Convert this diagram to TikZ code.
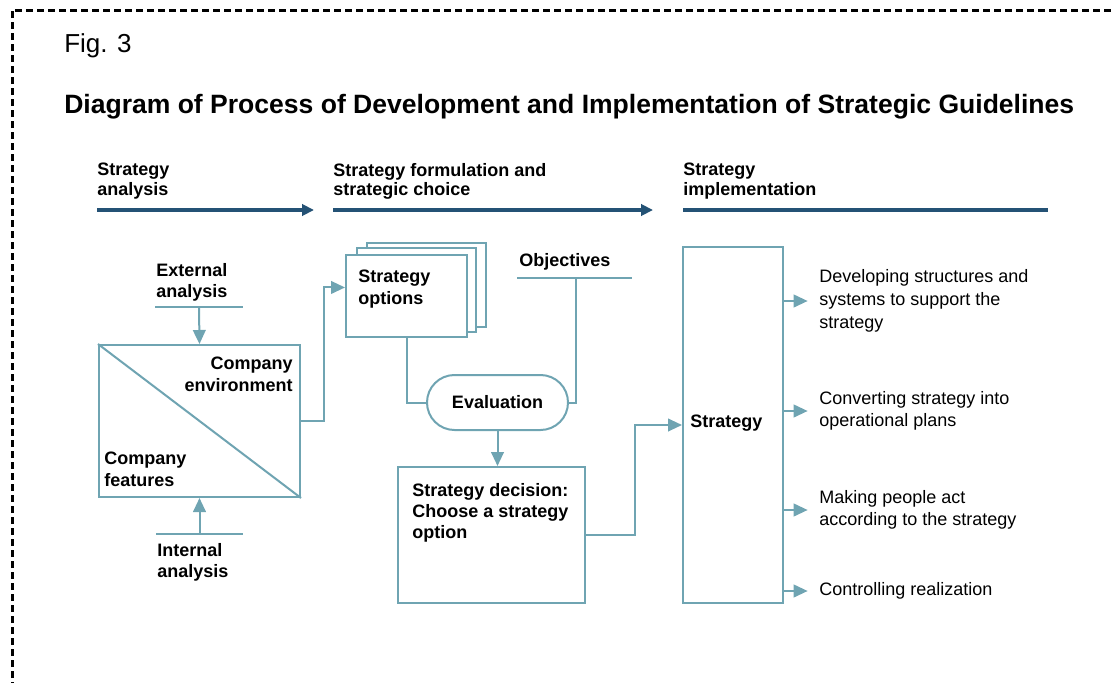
\documentclass[tikz,border=0pt]{standalone}
\usepackage{fontspec}
\setmainfont{Liberation Sans}
\usetikzlibrary{arrows.meta,calc}

\definecolor{flowline}{RGB}{111,164,178}
\definecolor{phaseline}{RGB}{36,82,117}

\tikzset{
	box/.style={draw=flowline, line width=1.5pt, fill=white, inner sep=0},
	con/.style={draw=flowline, line width=1.5pt},
	arr/.style={-{Triangle[length=10.5pt,width=9.5pt]}},
	phase/.style={draw=phaseline, line width=2.4pt},
	head/.style={font=\bfseries\fontsize{13.5}{14.5}\selectfont, align=left, inner sep=0},
	lbl/.style={font=\bfseries\fontsize{13.5}{16}\selectfont, inner sep=0},
	txt/.style={font=\fontsize{13.5}{17}\selectfont, align=left, inner sep=0}
}

\begin{document}
\begin{tikzpicture}[x=0.75pt,y=-0.75pt]
	\useasboundingbox (0,0) rectangle (1114,682);
	\draw [line width=2.25pt, dash pattern=on 5.25pt off 3pt] (12,700) -- (12,10) -- (1130,10);

	\node [anchor=base west, inner sep=0, font=\fontsize{19.5}{22}\selectfont] (fig) at (64,52) {Fig. 3};
	\node [anchor=base west, inner sep=0, font=\bfseries\fontsize{19.9}{22}\selectfont] (title) at (64,113)
	   {Diagram of Process of Development and Implementation of Strategic Guidelines};

	% phases
	\node [head, anchor=north west] (ph1) at (97,163) {Strategy\\analysis};
	\node [head, anchor=north west] (ph2) at (333,163) {Strategy formulation and\\strategic choice};
	\node [head, anchor=north west] (ph3) at (683,163) {Strategy\\implementation};
	\coordinate (ph1a) at (97,210);  \coordinate (ph1b) at (314,210);
	\coordinate (ph2a) at (333,210); \coordinate (ph2b) at (653,210);
	\coordinate (ph3a) at (683,210); \coordinate (ph3b) at (1048,210);
	\draw [phase] [-{Triangle[length=9pt,width=8.5pt]}] (ph1a) -- (ph1b);
	\draw [phase] [-{Triangle[length=9pt,width=8.5pt]}] (ph2a) -- (ph2b);
	\draw [phase] (ph3a) -- (ph3b);

	% analysis
	\node [box, minimum width=150.75pt, minimum height=114pt] (env) at (199.5,421) {};
	\draw [con] (env.north west) -- (env.south east);
	\node [lbl, align=right, anchor=north east] (envtxt) at (293,357) {Company\\environment};
	\node [lbl, align=left, anchor=north west] (feat) at (104,452) {Company\\features};

	\node [lbl, align=left, anchor=north west] (ext) at (156,263) {External\\analysis};
	\coordinate (extl) at (155,307); \coordinate (extr) at (243,307);
	\draw [con] (extl) -- (extr);
	\draw [con, arr] ($(extl)!0.5!(extr)$) -- (env.north);

	\node [lbl, align=left, anchor=north west] (int) at (157,543) {Internal\\analysis};
	\coordinate (intl) at (156,534); \coordinate (intr) at (243,534);
	\draw [con] (intl) -- (intr);
	\draw [con, arr] ($(intl)!0.5!(intr)$) -- (env.south);

	% formulation and choice
	\node [box, minimum width=89.25pt, minimum height=63pt] (opt3) at (426.5,285) {};
	\node [box, minimum width=89.25pt, minimum height=63pt] (opt2) at (416.5,290) {};
	\node [box, minimum width=90.75pt, minimum height=61.5pt] (opt) at (406.5,296) {};
	\node [lbl, align=left, anchor=north west] (opttxt) at (358,270) {Strategy\\options};
	\draw [con, arr] (env.east) -- ++(23,0) |- ([yshift=6.4pt]opt.west);

	\node [lbl, anchor=north west] (objtxt) at (519,253) {Objectives};
	\coordinate (objl) at (517,278); \coordinate (objr) at (632,278); \coordinate (obj) at (576,278);
	\draw [con] (objl) -- (objr);

	\node [box, minimum width=105.75pt, minimum height=41.25pt, rounded corners=20.6pt,
	   font=\bfseries\fontsize{13.5}{16}\selectfont] (eval) at (497.5,402.5) {Evaluation};
	\draw [con] (opt.south) |- (eval.west);
	\draw [con] (obj) |- (eval.east);

	\node [box, minimum width=140.25pt, minimum height=102pt] (dec) at (491.5,535) {};
	\node [lbl, align=left, anchor=north west] (dectxt) at (412,483) {Strategy decision:\\Choose a strategy\\option};
	\draw [con, arr] (eval.south) -- (eval.south |- dec.north);

	% implementation
	\node [box, minimum width=75pt, minimum height=267pt] (strat) at (733,425) {};
	\node [lbl, anchor=west] (strattxt) at (690,423) {Strategy};
	\draw [con, arr] (dec.east) -- ++(49,0) |- (strat.west);

	\node [txt, anchor=west] (d1) at (819,301) {Developing structures and\\systems to support the\\strategy};
	\node [txt, anchor=west] (d2) at (819,411) {Converting strategy into\\operational plans};
	\node [txt, anchor=west] (d3) at (819,510) {Making people act\\according to the strategy};
	\node [txt, anchor=west] (d4) at (819,591) {Controlling realization};
	\foreach \d in {d1,d2,d3,d4}
	   \draw [con, arr] (strat.east |- \d.west) -- ([xshift=-8.5pt]\d.west);
\end{tikzpicture}
\end{document}
